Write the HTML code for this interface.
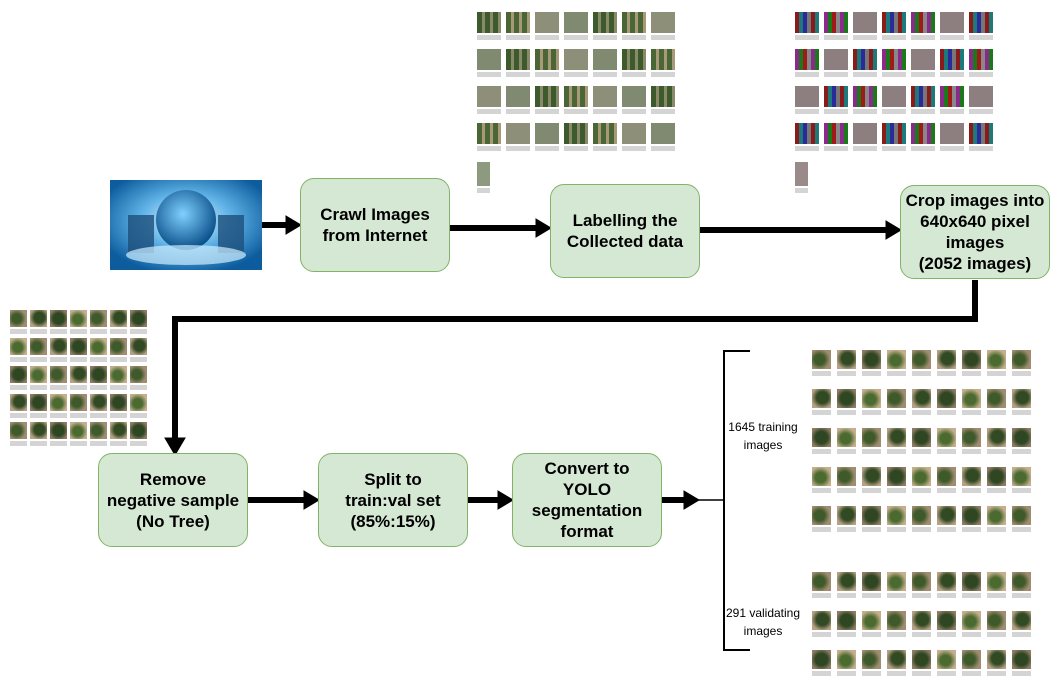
<!DOCTYPE html>
<html><head><meta charset="utf-8"><style>
body{margin:0;width:1061px;height:700px;background:#fff;position:relative;overflow:hidden;font-family:"Liberation Sans",Arial,sans-serif}
.box{position:absolute;width:148px;height:92px;background:#d5e8d4;border:1px solid #82b366;border-radius:14px;display:flex;align-items:center;justify-content:center;text-align:center;font-weight:bold;font-size:17px;line-height:21px;color:#000;white-space:nowrap}
.th{position:absolute}
.lbl{position:absolute;font-size:12px;text-align:center;color:#000;line-height:18px;white-space:nowrap}
</style></head><body>
<svg width="1061" height="700" style="position:absolute;left:0;top:0">
<defs>
<radialGradient id="g1" cx="50%" cy="45%" r="60%"><stop offset="0" stop-color="#e8f6ff"/><stop offset="0.5" stop-color="#5fb2e6"/><stop offset="1" stop-color="#0d5d9e"/></radialGradient>
<radialGradient id="g2" cx="45%" cy="40%" r="60%"><stop offset="0" stop-color="#7fd0ff"/><stop offset="1" stop-color="#0a4f8a"/></radialGradient>
</defs>
<g>
<rect x="110" y="180" width="152" height="90" fill="url(#g1)"/>
<rect x="128" y="215" width="26" height="38" fill="#1d4f7a" opacity="0.8"/>
<rect x="218" y="215" width="26" height="38" fill="#1d4f7a" opacity="0.8"/>
<circle cx="186" cy="220" r="30" fill="url(#g2)"/>
<ellipse cx="186" cy="255" rx="60" ry="10" fill="#cfeeff" opacity="0.7"/>
</g>
<g fill="#000" stroke="#000">
<line x1="262" y1="225" x2="288" y2="225" stroke-width="6"/><polygon points="286,216 301,225 286,234"/>
<line x1="450" y1="228" x2="538" y2="228" stroke-width="6"/><polygon points="536,219 551,228 536,237"/>
<line x1="700" y1="230" x2="888" y2="230" stroke-width="6"/><polygon points="886,221 901,230 886,239"/>
<polyline points="975,280 975,319 175,319 175,440" fill="none" stroke-width="6"/><polygon points="165,438 175,455 185,438"/>
<line x1="248" y1="500" x2="306" y2="500" stroke-width="6"/><polygon points="304,491 319,500 304,509"/>
<line x1="468" y1="500" x2="500" y2="500" stroke-width="6"/><polygon points="498,491 513,500 498,509"/>
<line x1="662" y1="500" x2="686" y2="500" stroke-width="6"/><polygon points="684,491 699,500 684,509"/>
<polyline points="698,500 724,500" fill="none" stroke-width="1.5"/>
<polyline points="750,351 724,351 724,650 750,650" fill="none" stroke-width="2"/>
</g>
</svg>
<div class="box" style="left:300px;top:178px">Crawl Images<br>from Internet</div>
<div class="box" style="left:550px;top:184px">Labelling the<br>Collected data</div>
<div class="box" style="left:900px;top:185px">Crop images into<br>640x640 pixel<br>images<br>(2052 images)</div>
<div class="box" style="left:98px;top:453px">Remove<br>negative sample<br>(No Tree)</div>
<div class="box" style="left:318px;top:453px">Split to<br>train:val set<br>(85%:15%)</div>
<div class="box" style="left:512px;top:453px">Convert to<br>YOLO<br>segmentation<br>format</div>
<div class="lbl" style="left:723px;top:418px;width:80px">1645 training<br>images</div>
<div class="lbl" style="left:723px;top:604px;width:80px">291 validating<br>images</div>
<div id="thumbs"></div>
<script>
const host=document.getElementById('thumbs');
function grid(name,x0,y0,cols,rows,dx,dy,w,h,palette){
  const g=document.createElement('div');
  
  
  host.appendChild(g);
  let k=0;
  for(let r=0;r<rows;r++)for(let c=0;c<cols;c++){
    const t=document.createElement('div');
    
    
    t.className='th';
    const col=palette[(k++)%palette.length];
    t.style.cssText=`left:${x0+c*dx}px;top:${y0+r*dy}px;width:${w}px;height:${h}px;background:${col};`;
    g.appendChild(t);
    const cap=document.createElement('div');
    cap.className='th';
    cap.style.cssText=`left:${x0+c*dx}px;top:${y0+r*dy+h+2}px;width:${w}px;height:5px;background:#d4d4d4;`;
    g.appendChild(cap);
  }
}
const trees=['radial-gradient(circle at 40% 50%,#3f5a2a 35%,#a08c70 70%)','radial-gradient(circle at 55% 45%,#324a24 40%,#b7a184 75%)','radial-gradient(circle,#2f4623 45%,#8d7c63 80%)','radial-gradient(circle at 45% 55%,#4a6a30 35%,#c4ae8c 72%)'];
const orch=['repeating-linear-gradient(90deg,#3d5a2c 0 5px,#8a8a6a 5px 8px)','repeating-linear-gradient(90deg,#4b6635 0 5px,#a89a78 5px 8px)'];
const lab=['repeating-linear-gradient(90deg,#8b1a1a 0 4px,#1e7a7a 4px 8px,#2a2a9a 8px 12px,#777 12px 16px)','repeating-linear-gradient(90deg,#8a2a8a 0 4px,#1a7a1a 4px 8px,#a01a1a 8px 12px,#888 12px 16px)'];
grid('raw-images-grid',477,12,7,4,29,37,24,21,orch.concat(['#8d8f78','#7f8a70']));
grid('raw-images-grid-extra',477,162,1,1,29,37,13,24,['#8d9a80']);
grid('labelled-images-grid',795,12,7,4,29,37,24,21,lab.concat(['#8d7f80']));
grid('labelled-images-grid-extra',795,162,1,1,29,37,13,24,['#9a8a8a']);
grid('cropped-images-grid',10,310,7,5,20,28,17,17,trees);
grid('training-images-grid',812,350,9,5,25,39,19,19,trees);
grid('validating-images-grid',812,572,9,3,25,39,19,19,trees);
</script>
</body></html>
